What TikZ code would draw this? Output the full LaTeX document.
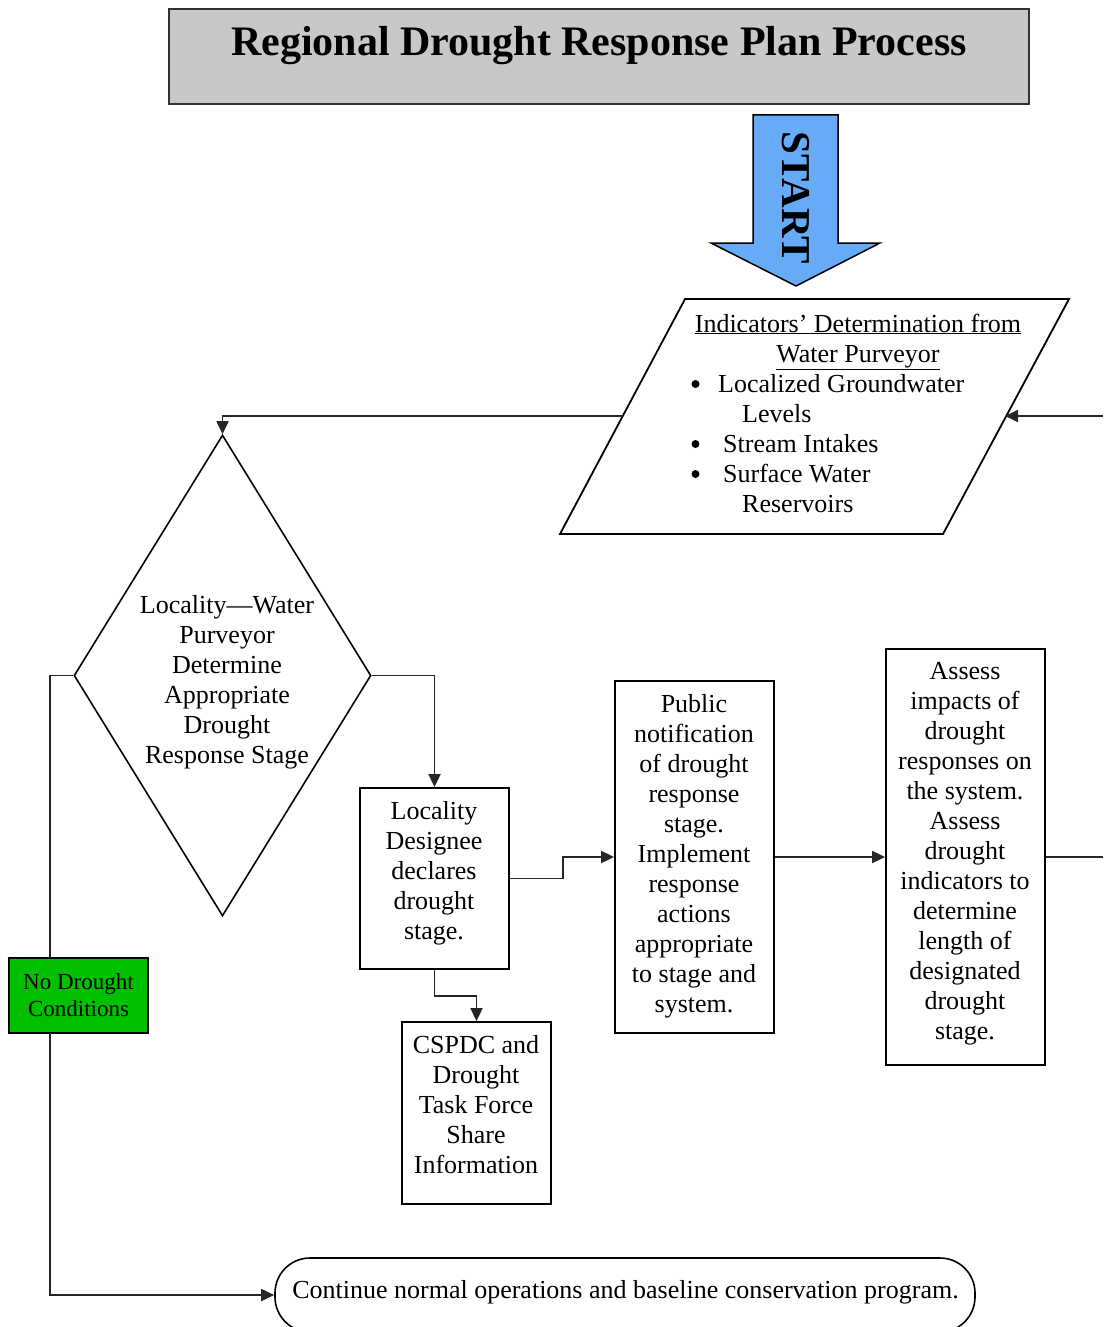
\documentclass[tikz,border=0pt]{standalone}
\usepackage{fontspec}
\setmainfont{Liberation Serif}
\usetikzlibrary{arrows.meta,shapes.geometric}
\definecolor{titlegray}{RGB}{200,200,200}
\definecolor{startblue}{RGB}{102,170,248}
\definecolor{ndgreen}{RGB}{0,192,0}
\begin{document}
\begin{tikzpicture}[x=1pt,y=-1pt,
  box/.style={draw=black, line width=1.8pt, inner sep=0pt},
  txt/.style={align=center, font=\fontsize{26}{30}\selectfont, inner sep=0pt,
    execute at begin node=\strut, execute at end node=\strut},
  line/.style={anchor=base west, font=\fontsize{26}{30}\selectfont, inner sep=0pt},
  bul/.style={circle, fill=black, inner sep=0pt, minimum size=8pt},
  conn/.style={draw=black!85, line width=1.8pt},
  arr/.style={conn, -{Triangle[length=13pt,width=12pt]}},
]
\useasboundingbox (0,0) rectangle (1103,1327);
\fill[white] (0,0) rectangle (1103,1327);

% title
\node[box, draw=black!80, fill=titlegray, minimum width=860pt, minimum height=95pt] (title) at (599,56.5) {};
\node[font=\fontsize{42}{48}\selectfont\bfseries, inner sep=0pt] (titletext) at (599,46) {Regional Drought Response Plan Process};

% start arrow
\filldraw[fill=startblue, draw=black, line width=1.5pt] (753,115) -- (838,115) -- (838,243) -- (880,243) -- (796,286) -- (711,243) -- (753,243) -- cycle;
\node[rotate=-90, font=\fontsize{41}{41}\selectfont\bfseries, inner sep=0pt] (start) at (796,198) {START};

% indicators parallelogram
\draw[line width=1.8pt] (685,299) -- (1069,299) -- (943,534) -- (560,534) -- cycle;
\coordinate (indL) at (623,416);
\coordinate (indR) at (1005,416);
\coordinate (feedR) at (1103,416);
\node[anchor=base, font=\fontsize{26}{30}\selectfont, inner sep=0pt] (ind1) at (858,332) {\underline{Indicators’ Determination from}};
\node[anchor=base, font=\fontsize{26}{30}\selectfont, inner sep=0pt] (ind2) at (858,362) {\underline{Water Purveyor}};
\node[bul] (b1) at (695.5,384) {};
\node[bul] (b2) at (695.5,444) {};
\node[bul] (b3) at (695.5,474) {};
\node[line] (i1) at (718,392) {Localized Groundwater};
\node[line] (i2) at (742,422) {Levels};
\node[line] (i3) at (723,452) {Stream Intakes};
\node[line] (i4) at (723,482) {Surface Water};
\node[line] (i5) at (742,512) {Reservoirs};

% diamond
\node[draw, line width=1.6pt, shape=diamond, minimum width=297pt, minimum height=481pt, inner sep=0pt] (dia) at (222.5,675.5) {};
\node[txt] (diatext) at (227,684) {Locality—Water\\Purveyor\\Determine\\Appropriate\\Drought\\Response Stage};

% boxes
\node[box, minimum width=149pt, minimum height=181pt] (loc) at (434.5,878.5) {};
\node[txt] (loctext) at (434,874.5) {Locality\\Designee\\declares\\drought\\stage.};

\node[box, minimum width=149pt, minimum height=182pt] (csp) at (476.5,1113) {};
\node[txt] (csptext) at (476,1108.5) {CSPDC and\\Drought\\Task Force\\Share\\Information};

\node[box, minimum width=159pt, minimum height=352pt] (pub) at (694.5,857) {};
\node[txt] (pubtext) at (694,857.5) {Public\\notification\\of drought\\response\\stage.\\Implement\\response\\actions\\appropriate\\to stage and\\system.};

\node[box, minimum width=159pt, minimum height=416pt] (ass) at (965.5,857) {};
\node[txt] (asstext) at (965,855.5) {Assess\\impacts of\\drought\\responses on\\the system.\\Assess\\drought\\indicators to\\determine\\length of\\designated\\drought\\stage.};

\node[box, fill=ndgreen, minimum width=139pt, minimum height=75pt, align=center, font=\fontsize{23}{27}\selectfont] (nd) at (78.5,995.5) {No Drought\\Conditions};
\coordinate (ndtop) at (50,958);
\coordinate (ndbot) at (50,1033);

\node[draw=black, line width=1.6pt, rounded corners=35pt, minimum width=700pt, minimum height=74pt, inner sep=0pt] (cont) at (625,1295) {};
\node[anchor=base, font=\fontsize{26}{30}\selectfont, inner sep=0pt] (conttext) at (625.5,1298) {Continue normal operations and baseline conservation program.};

\coordinate (outR) at (1103,857);

% connectors
\draw[arr] (feedR) -- (indR);
\draw[arr] (indL) -- (indL -| dia.north) -- (dia.north);
\draw[arr] (dia.east) -| (loc.north);
\draw[conn] (dia.west) -| (ndtop);
\draw[arr] (ndbot) |- (cont.west);
\draw[arr] (loc.east) -- ++(53,0) |- (pub.west);
\draw[arr] (loc.south) -- ++(0,26) -| (csp.north);
\draw[arr] (pub.east) -- (ass.west);
\draw[conn] (ass.east) -- (outR);
\end{tikzpicture}
\end{document}
